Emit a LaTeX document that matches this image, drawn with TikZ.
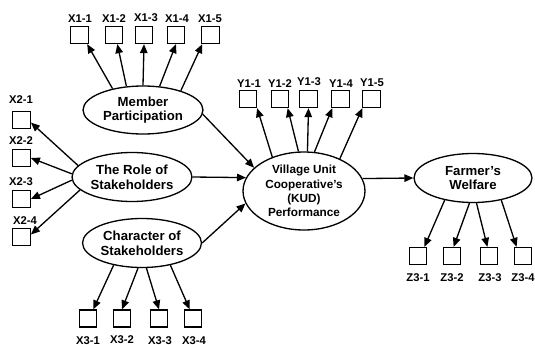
\documentclass[tikz,border=0pt]{standalone}
\usepackage{fontspec}
\setmainfont{Liberation Sans}
\usetikzlibrary{arrows.meta}
\usetikzlibrary{shapes.geometric}

\begin{document}
\begin{tikzpicture}[x=0.02cm,y=-0.02cm,
	ind/.style={draw,line width=0.75pt,minimum width=0.35cm,minimum height=0.34cm,inner sep=0pt},
	lab/.style={font=\fontsize{6.4}{7}\selectfont\bfseries,inner sep=0pt},
	lat/.style={draw,ellipse,line width=0.75pt,inner sep=0pt,align=center,font=\fontsize{7.5}{8.3}\selectfont\bfseries},
	arr/.style={line width=0.75pt,-{Triangle[length=1.8mm,width=1.5mm]}}]
			\useasboundingbox (0,0) rectangle (535,345);
			
			% latent variables
			\node[lat,minimum width=2.4cm,minimum height=0.96cm] (MP) at (143,110){Member\\Participation};
			\node[lat,minimum width=2.4cm,minimum height=0.98cm] (RS) at (132,177){The Role of\\Stakeholders};
			\node[lat,minimum width=2.38cm,minimum height=0.98cm] (CS) at (142,243){Character of\\Stakeholders};
			\node[lat,minimum width=2.44cm,minimum height=1.56cm,font=\fontsize{6.7}{8.1}\selectfont\bfseries] (VU) at (304,191){Village Unit\\Cooperative’s\\(KUD)\\Performance};
			\node[lat,minimum width=2.36cm,minimum height=0.98cm] (FW) at (473,178){Farmer’s\\Welfare};
			
			% indicators X1
			\node[ind] (X11) at (79.5,35){};
			\node[ind] (X12) at (114,35){};
			\node[ind] (X13) at (144,35){};
			\node[ind] (X14) at (176,35){};
			\node[ind] (X15) at (210.5,35){};
			\node[lab] (L11) at (80,19){X1-1};
			\node[lab] (L12) at (114,19){X1-2};
			\node[lab] (L13) at (146,18){X1-3};
			\node[lab] (L14) at (177,19){X1-4};
			\node[lab] (L15) at (210,19){X1-5};
			
			\draw[arr] (MP.145)--(X11.310);
			\draw[arr] (MP.125)--(X12.290);
			\draw[arr] (MP.90)--(X13.270);
			\draw[arr] (MP.55)--(X14.270);
			\draw[arr] (MP.27)--(X15.228);
			
			% indicators X2
			\node[ind] (X21) at (21.5,120){};
			\node[ind] (X22) at (21.5,158){};
			\node[ind] (X23) at (21.5,199){};
			\node[ind] (X24) at (21.5,237){};
			\node[lab] (L21) at (21,100){X2-1};
			\node[lab] (L22) at (21,141){X2-2};
			\node[lab] (L23) at (21,182){X2-3};
			\node[lab] (L24) at (25,221){X2-4};
			
			\draw[arr] (RS.168)--(X21.345);
			\draw[arr] (RS.177)--(X22.east);
			\draw[arr] (RS.183)--(X23.east);
			\draw[arr] (RS.194)--(X24.15);
			
			% indicators X3
			\node[ind] (X31) at (88,318.5){};
			\node[ind] (X32) at (122,318.5){};
			\node[ind] (X33) at (159,318.5){};
			\node[ind] (X34) at (193,318.5){};
			\node[lab] (L31) at (88,341){X3-1};
			\node[lab] (L32) at (122,340){X3-2};
			\node[lab] (L33) at (160,341){X3-3};
			\node[lab] (L34) at (194,341){X3-4};
			
			\draw[arr] (CS.218)--(X31.60);
			\draw[arr] (CS.261)--(X32.north);
			\draw[arr] (CS.280)--(X33.north);
			\draw[arr] (CS.322)--(X34.110);
			
			% indicators Y1
			\node[ind] (Y11) at (248,99){};
			\node[ind] (Y12) at (280,99){};
			\node[ind] (Y13) at (308.5,99){};
			\node[ind] (Y14) at (340.5,99){};
			\node[ind] (Y15) at (371.5,99){};
			\node[lab] (M11) at (249,84){Y1-1};
			\node[lab] (M12) at (280,84){Y1-2};
			\node[lab] (M13) at (309,82){Y1-3};
			\node[lab] (M14) at (341,84){Y1-4};
			\node[lab] (M15) at (372,83){Y1-5};
			
			\draw[arr] (VU.133)--(Y11.315);
			\draw[arr] (VU.98)--(Y12.310);
			\draw[arr] (VU.85)--(Y13.270);
			\draw[arr] (VU.75)--(Y14.228);
			\draw[arr] (VU.42)--(Y15.225);
			
			% indicators Z3
			\node[ind] (Z31) at (418,256){};
			\node[ind] (Z32) at (452,256){};
			\node[ind] (Z33) at (489,256){};
			\node[ind] (Z34) at (523,256){};
			\node[lab] (N31) at (418,278){Z3-1};
			\node[lab] (N32) at (452,278){Z3-2};
			\node[lab] (N33) at (490,278){Z3-3};
			\node[lab] (N34) at (523,278){Z3-4};
			
			\draw[arr] (FW.218)--(Z31.55);
			\draw[arr] (FW.262)--(Z32.80);
			\draw[arr] (FW.278)--(Z33.100);
			\draw[arr] (FW.322)--(Z34.125);
			
			% structural paths
			\draw[arr] (MP.356)--(VU.155);
			\draw[arr] (RS.east)--(VU.167);
			\draw[arr] (CS.east)--(VU.192);
			\draw[arr] (VU.12)--(FW.west);
		\end{tikzpicture}
\end{document}
